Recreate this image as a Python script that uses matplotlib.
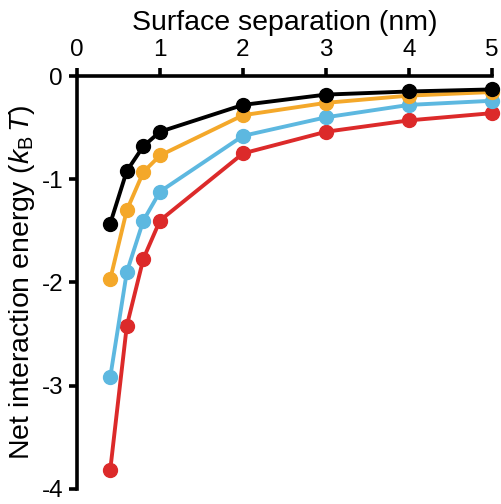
import matplotlib
matplotlib.use("Agg")
import matplotlib.pyplot as plt

plt.rcParams['font.family'] = ['Liberation Sans', 'DejaVu Sans']
plt.rcParams['mathtext.fontset'] = 'custom'
plt.rcParams['mathtext.rm'] = 'Liberation Sans'
plt.rcParams['mathtext.it'] = 'Liberation Sans:italic'

# surface separation (nm)
separation = [0.4, 0.6, 0.8, 1, 2, 3, 4, 5]

# net interaction energy (kBT), one list per curve
energy_black = [-1.43, -0.92, -0.68, -0.54, -0.28, -0.18, -0.15, -0.13]
energy_orange = [-1.97, -1.30, -0.93, -0.77, -0.38, -0.26, -0.19, -0.155]
energy_blue = [-2.92, -1.90, -1.40, -1.12, -0.58, -0.40, -0.28, -0.24]
energy_red = [-3.82, -2.42, -1.77, -1.40, -0.75, -0.54, -0.43, -0.36]

x_ticks = [0, 1, 2, 3, 4, 5]
y_ticks = [0, -1, -2, -3, -4]

colors = ['#000000', '#F4A82A', '#5DB8E0', '#DC2A2A']
series = [energy_black, energy_orange, energy_blue, energy_red]

fig = plt.figure(figsize=(5.02, 5.04), dpi=100)
ax = fig.add_axes([0.1534, 0.03, 0.8266, 0.8192])

# draw back to front so black sits on top like the reference
for y, c in zip(series[::-1], colors[::-1]):
    ax.plot(separation, y, color=c, lw=2.8, marker='o', ms=10,
            clip_on=False, zorder=3)

ax.set_xlim(0, 5)
ax.set_ylim(-4, 0)
ax.xaxis.tick_top()
ax.xaxis.set_label_position('top')
ax.set_xticks(x_ticks)
ax.set_yticks(y_ticks)
ax.set_xticklabels([str(v) for v in x_ticks])
ax.set_yticklabels([str(v) for v in y_ticks])

for s in ['right', 'bottom']:
    ax.spines[s].set_visible(False)
for s in ['left', 'top']:
    ax.spines[s].set_linewidth(2.6)

ax.tick_params(axis='both', direction='out', length=6, width=2.6,
               labelsize=17.5, colors='black')
ax.tick_params(axis='x', pad=5)
ax.tick_params(axis='y', pad=4)

ax.set_xlabel('Surface separation (nm)', fontsize=20.5, labelpad=6)
ax.set_ylabel(r'Net interaction energy ($k_{\mathrm{B}}\,T$)', fontsize=20.5,
              labelpad=3)

fig.savefig('out.png', dpi=100)
